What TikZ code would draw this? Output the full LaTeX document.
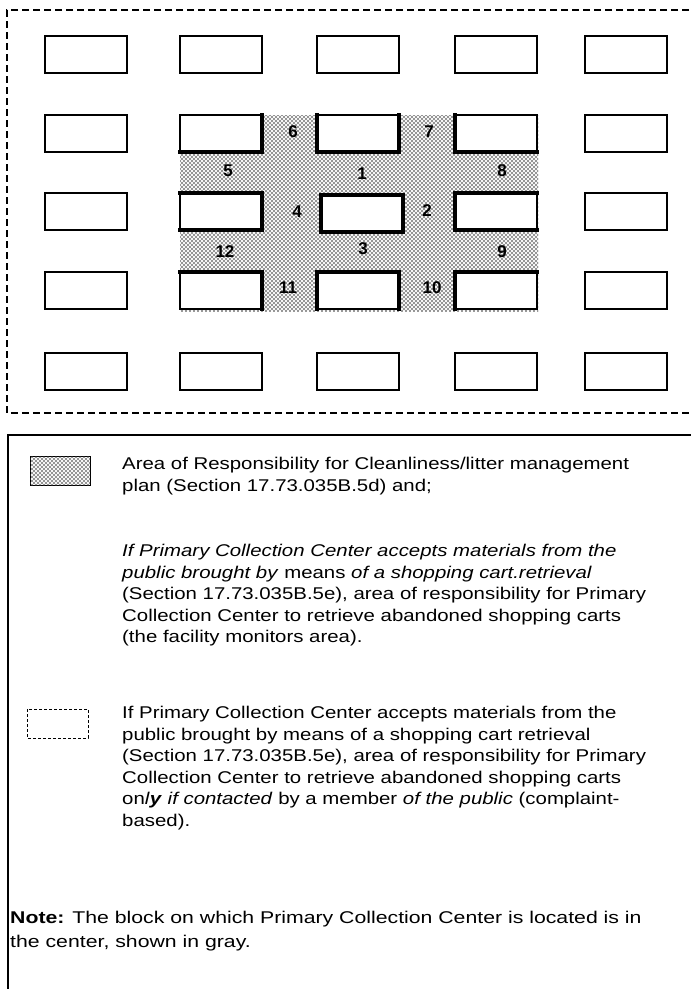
\documentclass[tikz,border=0pt]{standalone}
\usepackage{fontspec}
\setmainfont{Liberation Sans}
\newfontfamily\legfont[FakeStretch=1.2]{Liberation Sans}
\newfontfamily\notefont[FakeStretch=1.25]{Liberation Sans}
\usetikzlibrary{patterns}
\pgfdeclarepatternformonly{stipple}{\pgfqpoint{-1pt}{-1pt}}{\pgfqpoint{3pt}{3pt}}{\pgfqpoint{4pt}{4pt}}{%
  \pgfpathcircle{\pgfqpoint{0pt}{0pt}}{0.85pt}%
  \pgfpathcircle{\pgfqpoint{2pt}{2pt}}{0.85pt}%
  \pgfusepath{fill}}
\tikzset{
  blk/.style={draw=black, line width=1.4pt, fill=white, rectangle, inner sep=0pt, outer sep=0pt,
              minimum width=82pt, minimum height=37pt, anchor=north west},
  thk/.style={line width=3.2pt, line cap=rect, line join=miter},
  num/.style={font=\bfseries\fontsize{17}{17}\selectfont, inner sep=0pt},
  legtxt/.style={anchor=north west, inner sep=0pt, align=left, font=\legfont\fontsize{17}{21.5}\selectfont},
  outerdash/.style={dash pattern=on 7pt off 4pt, line width=1.2pt},
  stip/.style={fill=gray!8, postaction={pattern=stipple, pattern color=black!80}},
}
\begin{document}
\begin{tikzpicture}[x=1pt,y=-1pt]
\useasboundingbox (0,0) rectangle (691,989);
\clip (0,0) rectangle (691,989);
\fill[white] (0,0) rectangle (691,989);

% outer dashed area
\draw[outerdash] (700,10) -- (7,10) -- (7,413) -- (700,413);

% gray area of responsibility
\path[stip] (180,115) rectangle (538,311);

% blocks
\foreach \r/\y in {1/36,2/115,3/193,4/272,5/353}{
  \foreach \c/\x in {1/45,2/180,3/317,4/455,5/585}{
    \ifnum\r\c=33\relax\else
      \node[blk] (r\r\c) at (\x,\y) {};
    \fi
  }}
\node[blk] (r33) at (321,195) {};

% thick edges facing the gray area
\draw[thk] (r22.north east) -- (r22.south east) -- (r22.south west);
\draw[thk] (r23.north west) -- (r23.south west) -- (r23.south east) -- (r23.north east);
\draw[thk] (r24.north west) -- (r24.south west) -- (r24.south east);
\draw[thk] (r32.north west) -- (r32.north east) -- (r32.south east) -- (r32.south west);
\draw[thk] (r33.north west) rectangle (r33.south east);
\draw[thk] (r34.north east) -- (r34.north west) -- (r34.south west) -- (r34.south east);
\draw[thk] (r42.north west) -- (r42.north east) -- (r42.south east);
\draw[thk] (r43.south west) -- (r43.north west) -- (r43.north east) -- (r43.south east);
\draw[thk] (r44.south west) -- (r44.north west) -- (r44.north east);

% numbers
\node[num] (n6)  at (293,132) {6};
\node[num] (n7)  at (429,132) {7};
\node[num] (n5)  at (228,171) {5};
\node[num] (n1)  at (362,174) {1};
\node[num] (n8)  at (502,171) {8};
\node[num] (n4)  at (297,212) {4};
\node[num] (n2)  at (427,211) {2};
\node[num] (n12) at (225,252) {12};
\node[num] (n3)  at (363,249) {3};
\node[num] (n9)  at (502,252) {9};
\node[num] (n11) at (288,288) {11};
\node[num] (n10) at (432,288) {10};

% legend box
\draw[line width=1.2pt] (8,1000) -- (8,435) -- (700,435);

% legend swatches
\path[stip, draw=black, line width=0.8pt] (30,456) rectangle (90,485);
\draw[dash pattern=on 3pt off 2pt, line width=0.8pt] (27,709) rectangle (88,738);

% legend texts
\node[legtxt] (p1) at (122,457) {Area of Responsibility for Cleanliness/litter management\\
plan (Section 17.73.035B.5d) and;};
\node[legtxt] (p2) at (122,544) {\textit{If Primary Collection Center accepts materials from the}\\
\textit{public brought by} means \textit{of a shopping cart.retrieval}\\
(Section 17.73.035B.5e), area of responsibility for Primary\\
Collection Center to retrieve abandoned shopping carts\\
(the facility monitors area).};
\node[legtxt] (p3) at (122,706) {If Primary Collection Center accepts materials from the\\
public brought by means of a shopping cart retrieval\\
(Section 17.73.035B.5e), area of responsibility for Primary\\
Collection Center to retrieve abandoned shopping carts\\
on\textit{l}\textbf{\textit{y}} \textit{if contacted} by a member \textit{of the public} (complaint-\\
based).};
\node[legtxt, font=\notefont\fontsize{17}{24}\selectfont] (note) at (10,911) {\textbf{Note:} The block on which Primary Collection Center is located is in\\
the center, shown in gray.};
\end{tikzpicture}
\end{document}
